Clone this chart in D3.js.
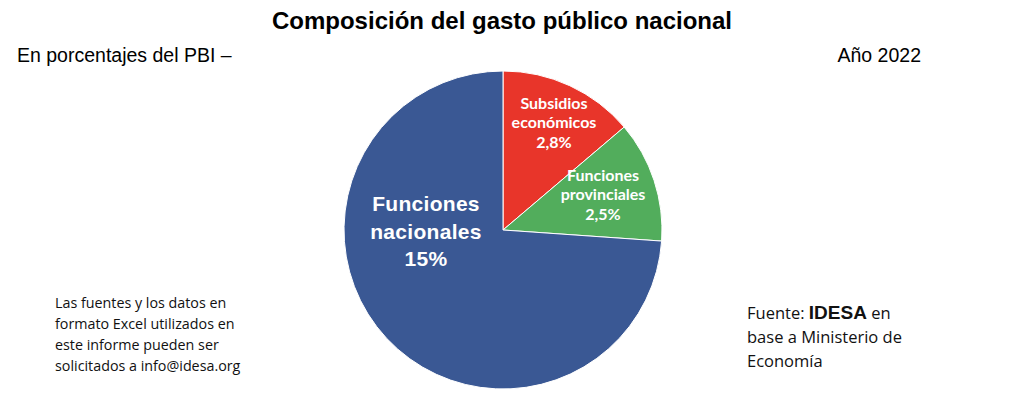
<!DOCTYPE html>
<html>
<head>
<meta charset="utf-8">
<script src="https://cdn.jsdelivr.net/npm/d3@7"></script>
<style>
  body { margin: 0; background: #fff; }
</style>
</head>
<body>
<div id="chart"></div>
<script>
// Data
const categories = ["Subsidios económicos", "Funciones provinciales", "Funciones nacionales"];
const values = [2.8, 2.5, 15];
const valueLabels = ["2,8%", "2,5%", "15%"];
const labelLines = [["Subsidios", "económicos"], ["Funciones", "provinciales"], ["Funciones", "nacionales"]];
const colors = ["#e8352a", "#52ad5c", "#3a5894"];

const width = 1024, height = 394;
const cx = 503, cy = 230, radius = 159;

const svg = d3.select("#chart").append("svg")
    .attr("width", width)
    .attr("height", height);

// Title
svg.append("text")
    .attr("x", 502).attr("y", 29)
    .attr("text-anchor", "middle")
    .style("font-family", "'Liberation Sans', Arial, sans-serif")
    .style("font-weight", "bold")
    .style("font-size", "24px")
    .text("Composición del gasto público nacional");

svg.append("text")
    .attr("x", 17).attr("y", 62)
    .style("font-family", "'Liberation Sans', Arial, sans-serif")
    .style("font-size", "19.5px")
    .text("En porcentajes del PBI –");

svg.append("text")
    .attr("x", 921).attr("y", 62)
    .attr("text-anchor", "end")
    .style("font-family", "'Liberation Sans', Arial, sans-serif")
    .style("font-size", "19.5px")
    .text("Año 2022");

// Pie
const pie = d3.pie().sort(null).value(d => d.value);
const arc = d3.arc().innerRadius(0).outerRadius(radius);
const data = categories.map((c, i) => ({ name: c, value: values[i], label: valueLabels[i], lines: labelLines[i], color: colors[i] }));

const g = svg.append("g").attr("transform", `translate(${cx},${cy})`);

g.selectAll("path")
    .data(pie(data))
    .enter().append("path")
    .attr("d", arc)
    .attr("fill", d => d.data.color)
    .attr("stroke", "#fff")
    .attr("stroke-width", 1);

// Slice labels (offsets relative to center, tuned by eye)
const labelPos = [
    { x: 51, y: -127, size: 16, lh: 19.5, bold: false },
    { x: 100, y: -55, size: 16, lh: 19.5, bold: false },
    { x: -77, y: -26, size: 21, lh: 27.5, bold: true }
];

pie(data).forEach((d, i) => {
    const p = labelPos[i];
    d.data.lines.concat([d.data.label]).forEach((line, j) => {
        g.append("text")
            .attr("text-anchor", "middle")
            .attr("fill", "#fff")
            .attr("x", p.x)
            .attr("y", p.y + j * p.lh + p.size * 0.35)
            .style("font-family", p.bold ? "'Liberation Sans', Arial, sans-serif" : "Lato, sans-serif")
            .style("font-weight", "bold")
            .style("letter-spacing", p.bold ? "0.3px" : "0")
            .style("font-size", p.size + "px")
            .text(line);
    });
});

// Notes
const noteLeft = ["Las fuentes y los datos en", "formato Excel utilizados en", "este informe pueden ser", "solicitados a info@idesa.org"];
noteLeft.forEach((line, j) => {
    svg.append("text")
        .attr("x", 55).attr("y", 308 + j * 21)
        .style("font-family", "'Open Sans', sans-serif")
        .style("font-size", "14.3px")
        .attr("fill", "#111")
        .text(line);
});

const noteRight = ["base a Ministerio de", "Economía"];
const r1 = svg.append("text")
    .attr("x", 747).attr("y", 319)
    .style("font-family", "'Open Sans', sans-serif")
    .style("font-size", "16.5px")
    .attr("fill", "#111");
r1.append("tspan").text("Fuente: ");
r1.append("tspan")
    .style("font-family", "'Liberation Sans', Arial, sans-serif")
    .style("font-weight", "bold")
    .style("font-size", "19px")
    .text("IDESA");
r1.append("tspan").text(" en");
noteRight.forEach((line, j) => {
    svg.append("text")
        .attr("x", 747).attr("y", 343 + j * 23.5)
        .style("font-family", "'Open Sans', sans-serif")
        .style("font-size", "16.5px")
        .attr("fill", "#111")
        .text(line);
});
</script>
</body>
</html>
